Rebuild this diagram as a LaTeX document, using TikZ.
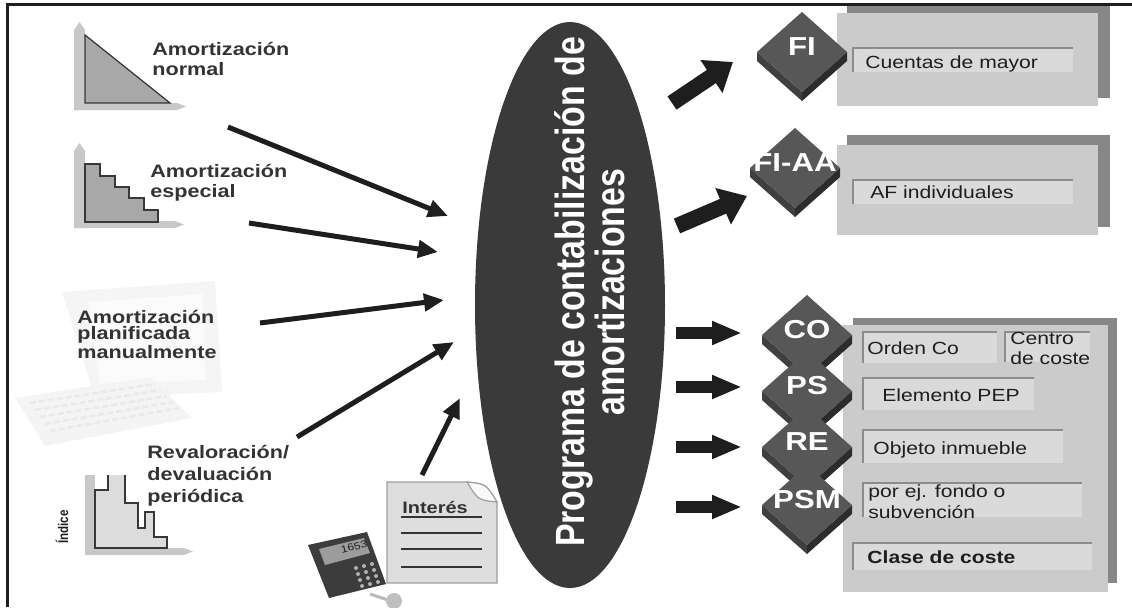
\documentclass[tikz,border=0pt]{standalone}
\usepackage{fontspec}
\setmainfont[FakeStretch=1.2]{Liberation Sans}
\newfontfamily\tallfont[FakeStretch=0.83]{Liberation Sans}
\usetikzlibrary{arrows.meta,shapes.geometric}
\definecolor{ink}{HTML}{1E1E1E}
\definecolor{labeltext}{HTML}{333333}
\definecolor{cubetop}{HTML}{575757}
\definecolor{cubeleft}{HTML}{3F3F3F}
\definecolor{cuberight}{HTML}{2C2C2C}
\definecolor{panel}{HTML}{CBCBCB}
\definecolor{panelshade}{HTML}{878787}
\definecolor{fieldfill}{HTML}{DADADA}
\definecolor{fieldedge}{HTML}{8C8C8C}
\definecolor{ovalfill}{HTML}{3A3A3A}
\definecolor{axis}{HTML}{C8C8C8}
\definecolor{chartfill}{HTML}{A8A8A8}
\definecolor{chartlight}{HTML}{DCDCDC}
\definecolor{chartline}{HTML}{383838}
\definecolor{docfill}{HTML}{DEDEDE}
\definecolor{calcbody}{HTML}{3C3C3C}
\definecolor{calcscreen}{HTML}{9C9C9C}
\tikzset{
  lbl/.style={anchor=base west,align=left,inner sep=0pt,font=\fontsize{9}{10}\selectfont\bfseries,text=labeltext},
  fld/.style={fill=fieldfill},
  fldedge/.style={draw=fieldedge,line width=.6pt},
  fldtxt/.style={anchor=base west,align=left,inner sep=0pt,font=\fontsize{8.8}{10.5}\selectfont,text=ink},
  cubelbl/.style={inner sep=0pt,font=\fontsize{13}{13}\selectfont\bfseries,text=white},
  feed/.style={-{Triangle[length=10pt,width=8.5pt]},draw=ink,line width=2.5pt},
  push/.style={-{Triangle[length=15pt,width=11pt]},draw=ink,line width=6pt},
  pushbig/.style={-{Triangle[length=13pt,width=19pt]},draw=ink,line width=8pt},
  axisbar/.style={fill=axis},
  chart/.style={fill=chartfill,draw=chartline,line width=.6pt},
}
% module block: name, x, y, label
\newcommand{\modcube}[4]{%
  \fill[cubeleft] (#2-45,#3) -- (#2,#3+40) -- (#2,#3+49) -- (#2-45,#3+9) -- cycle;
  \fill[cuberight] (#2,#3+40) -- (#2+45,#3) -- (#2+45,#3+9) -- (#2,#3+49) -- cycle;
  \fill[cubetop] (#2,#3-40) -- (#2+45,#3) -- (#2,#3+40) -- (#2-45,#3) -- cycle;
  \node[cubelbl] (#1) at (#2,#3-5) {#4};
}

\begin{document}
\begin{tikzpicture}[x=0.5pt,y=-0.5pt]
\useasboundingbox (0,0) rectangle (1132,607);

% straight-line chart
\fill[axisbar] (74,110) -- (74,30) -- (79.5,22) -- (85,30) -- (85,110) -- cycle;
\fill[axisbar] (74,103) -- (177,103) -- (186,106.5) -- (177,110) -- (74,110) -- cycle;
\filldraw[chart] (85,35) -- (170,103) -- (85,103) -- cycle;
\node[lbl] (norm) at (152,75) {Amortización\\normal};

% stepped chart
\fill[axisbar] (74,228) -- (74,151) -- (79.5,143) -- (85,151) -- (85,228) -- cycle;
\fill[axisbar] (74,221) -- (175,221) -- (184,224.5) -- (175,228) -- (74,228) -- cycle;
\filldraw[chart] (85,222) |- (100,164) |- (115,176) |- (129,187) |- (144,198) |- (158,210) -- (158,222) -- cycle;
\node[lbl] (esp) at (150,197) {Amortización\\especial};

% computer
\fill[gray!8] (62,292) -- (215,281) -- (222,392) -- (95,398) -- cycle;
\fill[gray!3] (88,302) -- (203,294) -- (206,380) -- (100,384) -- cycle;
\fill[gray!10] (118,392) -- (168,389) -- (172,405) -- (120,408) -- cycle;
\fill[gray!9] (15,398) -- (150,377) -- (192,418) -- (45,446) -- cycle;
\foreach \k in {0,...,4}
  \draw[gray!17,line width=1.2pt,dash pattern=on 3pt off 1.5pt] (30+5*\k,403+7*\k) -- (155+6*\k,384+6*\k);
\node[lbl,font=\fontsize{9}{8}\selectfont\bfseries] (man) at (77,358) {Amortización\\planificada\\manualmente};

% index chart
\fill[axisbar] (85,555) -- (85,475) -- (95,475) -- (95,555) -- cycle;
\fill[axisbar] (85,548) -- (184,548) -- (193,551.5) -- (184,555) -- (85,555) -- cycle;
\fill[chartlight] (95,548) -- (95,490) -- (108,490) -- (108,475) -- (125,475) -- (125,503) -- (138,503) -- (138,528) -- (145,528) -- (145,512) -- (154,512) -- (154,537) -- (167,537) -- (167,548) -- cycle;
\draw[chartline,line width=.6pt] (108,475) -- (108,490) -- (95,490) -- (95,548) -- (167,548) -- (167,537) -- (154,537) -- (154,512) -- (145,512) -- (145,528) -- (138,528) -- (138,503) -- (125,503) -- (125,475);
\node[rotate=90,inner sep=0pt,font=\tallfont\fontsize{7}{7}\selectfont\bfseries,text=ink] (idx) at (62,527) {Índice};
\node[lbl,font=\fontsize{9}{11}\selectfont\bfseries] (rev) at (147,502) {Revaloración/\\devaluación\\periódica};

% calculator and interest sheet
\fill[calcbody] (308,545) -- (367,532) -- (386,584) -- (329,598) -- cycle;
\fill[calcscreen] (319,549) -- (364,538) -- (370,553) -- (325,565) -- cycle;
\node[rotate=14,inner sep=0pt,font=\fontsize{5}{5}\selectfont,text=ink] (clock) at (354,547) {1653};
\foreach \i in {0,1,2}
  \foreach \j in {0,...,3}
    \fill[gray!60] ({356+8*\i+2*\j},{568+6*\j-2*\i}) circle (1pt);
\draw[gray!55,line width=1.5pt] (370,594) -- (388,600);
\fill[gray!50] (394,601) circle (4pt);
\filldraw[fill=docfill,draw=gray!75,line width=.6pt] (387,482) -- (467,482) .. controls (486,484) .. (497,502) -- (497,583) -- (387,583) -- cycle;
\filldraw[fill=gray!5,draw=gray!75,line width=.6pt] (467,482) .. controls (486,484) .. (497,502) .. controls (478,500) .. (467,482) -- cycle;
\node[lbl,font=\fontsize{8.3}{10}\selectfont\bfseries] (int) at (402,513) {Interés};
\foreach \y in {517,533,549,567}
  \draw[gray!40!black,line width=1pt] (401,\y) -- (482,\y);

% posting program
\node[ellipse,fill=ovalfill,minimum width=95pt,minimum height=283pt,inner sep=0pt] (prog) at (570,305) {};
\node[rotate=90,align=center,inner sep=0pt,text=white,font=\tallfont\fontsize{20.4}{17.5}\selectfont\bfseries] (progtxt) at (590,292) {Programa de contabilización de\\amortizaciones};

% inputs
\coordinate (s-norm) at (228,127); \coordinate (t-norm) at (448,216);
\coordinate (s-esp) at (249,223);  \coordinate (t-esp) at (438,252);
\coordinate (s-man) at (260,323);  \coordinate (t-man) at (444,300);
\coordinate (s-rev) at (297,437);  \coordinate (t-rev) at (454,342);
\coordinate (s-int) at (422,475);  \coordinate (t-int) at (460,398);
\foreach \n in {norm,esp,man,rev,int}
  \draw[feed] (s-\n) -- (t-\n);

% target panels
\fill[panelshade] (847,3) rectangle (1110,98);
\fill[panel] (837,13) rectangle (1098,106);
\fill[panelshade] (847,135) rectangle (1110,227);
\fill[panel] (837,145) rectangle (1098,235);
\fill[panelshade] (853,318) rectangle (1117,583);
\fill[panel] (843,325) rectangle (1108,592);

% fields
\foreach \a/\b/\c/\d in {853/48/1073/72, 853/180/1073/204, 863/332/997/363, 1005/332/1090/362, 863/378/1034/410, 863/430/1063/463, 863/483/1082/517, 853/543/1092/570}{
  \fill[fld] (\a,\b) rectangle (\c,\d);
  \draw[fldedge] (\a,\d) |- (\c,\b);
}
\node[fldtxt] (gl) at (865,68) {Cuentas de mayor};
\node[fldtxt] (af) at (870,198) {AF individuales};
\node[fldtxt] (ord) at (867,354) {Orden Co};
\node[fldtxt,font=\fontsize{8.8}{10}\selectfont] (cc) at (1010,364) {Centro\\de coste};
\node[fldtxt] (pep) at (882,401) {Elemento PEP};
\node[fldtxt] (obj) at (873,454) {Objeto inmueble};
\node[fldtxt] (fund) at (868,518) {por ej. fondo o\\subvención};
\node[fldtxt,font=\fontsize{8.8}{10.5}\selectfont\bfseries] (ce) at (867,563) {Clase de coste};

% modules
\modcube{fi}{802}{52}{FI}
\modcube{fiaa}{795}{168}{FI-AA}
\modcube{co}{807}{335}{CO}
\modcube{ps}{807}{391}{PS}
\modcube{re}{807}{447}{RE}
\modcube{psm}{807}{505}{PSM}

% outputs
\coordinate (fi-from) at (672,103); \coordinate (fi-to) at (733,62);
\coordinate (fiaa-from) at (677,226); \coordinate (fiaa-to) at (747,196);
\draw[pushbig] (fi-from) -- (fi-to);
\draw[pushbig] (fiaa-from) -- (fiaa-to);
\foreach \n/\y in {co/333,ps/387,re/447,psm/507}{
  \coordinate (\n-from) at (676,\y);
  \coordinate (\n-to) at (742,\y);
  \draw[push] (\n-from) -- (\n-to);
}

\draw[ink,line width=1.5pt] (7,607) -- (7,4) -- (1132,4);
\end{tikzpicture}
\end{document}
